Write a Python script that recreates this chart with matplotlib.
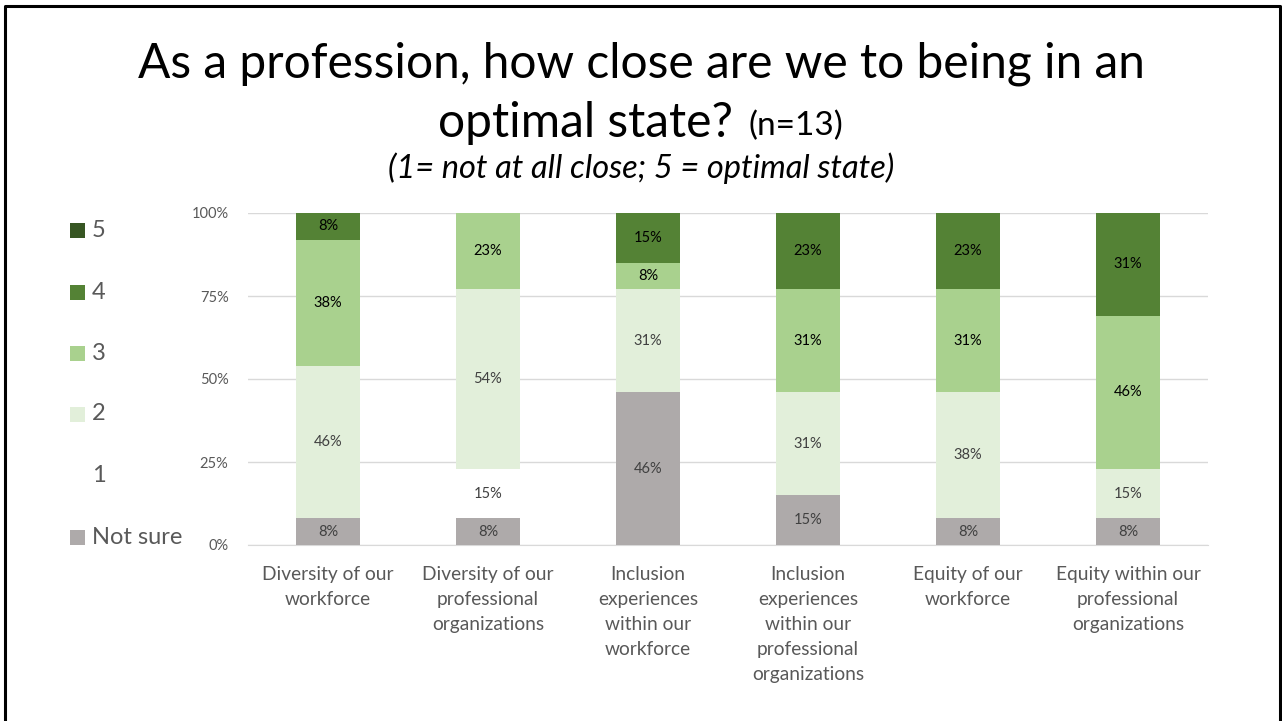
import matplotlib
matplotlib.use("Agg")
import matplotlib.pyplot as plt
from matplotlib.patches import Rectangle
from matplotlib.lines import Line2D
import numpy as np

plt.rcParams['font.family'] = ['Lato', 'DejaVu Sans']

categories = ["Diversity of our\nworkforce",
              "Diversity of our\nprofessional\norganizations",
              "Inclusion\nexperiences\nwithin our\nworkforce",
              "Inclusion\nexperiences\nwithin our\nprofessional\norganizations",
              "Equity of our\nworkforce",
              "Equity within our\nprofessional\norganizations"]

series_names = ["Not sure", "1", "2", "3", "4", "5"]
not_sure = [8, 8, 46, 15, 8, 8]
one      = [0, 15, 0, 0, 0, 0]
two      = [46, 54, 31, 31, 38, 15]
three    = [38, 23, 8, 31, 31, 46]
four     = [8, 0, 15, 23, 23, 31]
five     = [0, 0, 0, 0, 0, 0]
yticks = [0, 25, 50, 75, 100]
ytick_labels = ["0%", "25%", "50%", "75%", "100%"]

colors = ["#AEAAAA", "none", "#E2EFDA", "#A9D18E", "#548235", "#375623"]
label_colors = ["#404040", "#404040", "#404040", "#000000", "#000000", "#000000"]

W, H = 1282, 721
fig = plt.figure(figsize=(W/100, H/100), dpi=100)

def fx(px): return px / W
def fy(py): return 1 - py / H

# slide border (left, top, right)
fig.add_artist(Line2D([fx(5), fx(5), fx(1279.5), fx(1279.5)], [0, fy(6), fy(6), 0],
                      transform=fig.transFigure, color="black", linewidth=2.2))

ax = fig.add_axes([fx(248), fy(545), fx(960), (545-213)/H])
data = [not_sure, one, two, three, four, five]
x = np.arange(len(categories))
bottom = np.zeros(len(categories))
for vals, col, lc in zip(data, colors, label_colors):
    vals = np.array(vals, dtype=float)
    ax.bar(x, vals, bottom=bottom, width=0.4, color=col, edgecolor="none", zorder=3)
    for xi, v, b in zip(x, vals, bottom):
        if v > 0:
            ax.text(xi, b + v/2, f"{int(v)}%", ha="center", va="center",
                    fontsize=10.5, color=lc, zorder=4)
    bottom += vals

ax.set_xlim(-0.5, len(categories) - 0.5)
ax.set_ylim(0, 100)
ax.set_yticks(yticks)
ax.set_yticklabels(ytick_labels)
ax.yaxis.grid(True, color="#D9D9D9", linewidth=1, zorder=0)
ax.set_axisbelow(True)
for s in ["top", "right", "left"]:
    ax.spines[s].set_visible(False)
ax.spines["bottom"].set_color("#D9D9D9")
ax.tick_params(axis="y", length=0, pad=14, labelsize=10.5, labelcolor="#595959")
ax.tick_params(axis="x", length=0, pad=15, labelsize=13.8, labelcolor="#595959")
ax.set_xticks(x)
ax.set_xticklabels(categories, linespacing=1.58, va="top")

# legend (manual)
leg_y = [537, 476, 414, 353, 292, 230]
for name, col, py in zip(series_names, colors, leg_y):
    if col != "none":
        fig.add_artist(Rectangle((fx(70), fy(py+8)), fx(15), 15/H, transform=fig.transFigure,
                                 facecolor=col, edgecolor="none"))
    fig.text(fx(92), fy(py), name, fontsize=17, color="#595959", ha="left", va="center")

# titles
fig.text(0.5, fy(64), "As a profession, how close are we to being in an",
         fontsize=34.5, ha="center", va="center", color="black")
fig.text(fx(585), fy(123), "optimal state?", fontsize=34.5,
         ha="center", va="center", color="black")
fig.text(fx(796), fy(126), "(n=13)", fontsize=24,
         ha="center", va="center", color="black")
fig.text(0.5, fy(168), "(1= not at all close; 5 = optimal state)", fontsize=23.5,
         ha="center", va="center", style="italic", color="black")

fig.savefig("out.png", dpi=100)
